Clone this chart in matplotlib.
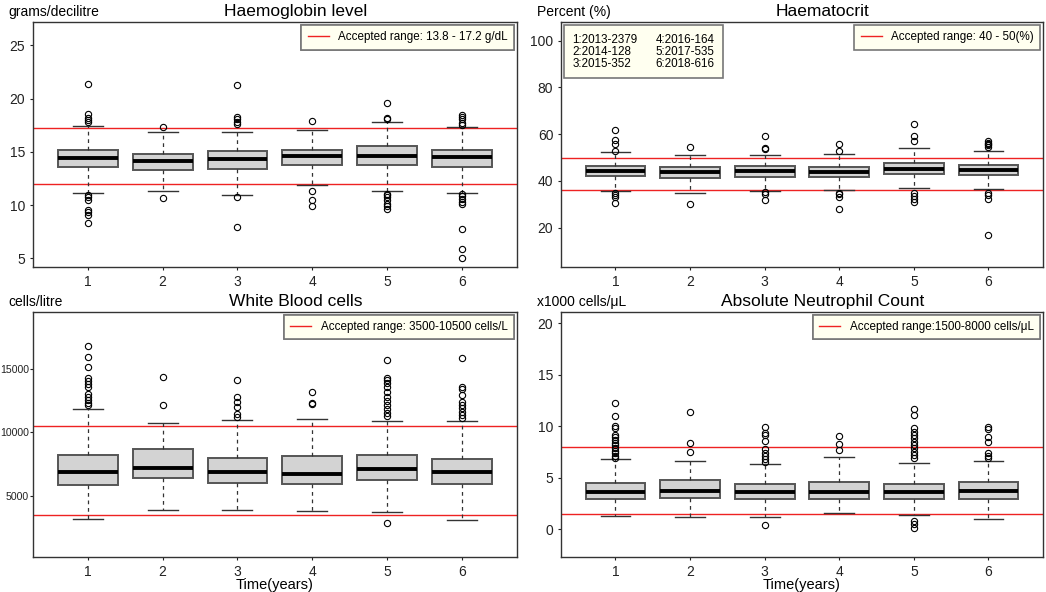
import matplotlib
matplotlib.use("Agg")
import matplotlib.pyplot as plt
from matplotlib.lines import Line2D
from matplotlib.patches import Patch

plt.rcParams['font.family'] = ['Liberation Sans', 'DejaVu Sans']

years = [1, 2, 3, 4, 5, 6]
cohort_labels = ["1:2013-2379", "2:2014-128", "3:2015-352",
                 "4:2016-164", "5:2017-535", "6:2018-616"]

# Haemoglobin (g/dL): q1, median, q3, whisker low, whisker high, outliers
hb_q1 = [13.61, 13.29, 13.36, 13.8, 13.8, 13.61]
hb_med = [14.39, 14.11, 14.3, 14.64, 14.64, 14.55]
hb_q3 = [15.17, 14.8, 15.11, 15.17, 15.52, 15.17]
hb_lo = [11.17, 11.32, 10.92, 11.92, 11.32, 11.17]
hb_hi = [17.39, 16.89, 16.89, 17.08, 17.8, 17.3]
hb_out = [
    [21.37, 18.52, 18.2, 18.0, 17.8, 11.0, 10.76, 10.5, 9.57, 9.32, 9.04, 8.32],
    [17.3, 10.7],
    [21.3, 18.27, 18.05, 17.77, 17.58, 10.73, 8.0],
    [17.9, 11.3, 10.45, 9.91],
    [19.55, 18.2, 18.1, 11.07, 10.92, 10.76, 10.45, 10.13, 9.91, 9.66],
    [18.43, 18.27, 18.08, 17.7, 17.52, 11.07, 10.82, 10.54, 10.26, 10.07,
     7.79, 5.88, 5.03],
]

# Haematocrit (%)
hct_q1 = [42.1, 41.4, 41.8, 41.8, 42.8, 42.5]
hct_med = [44.4, 44.0, 44.1, 44.0, 45.2, 44.5]
hct_q3 = [46.4, 46.0, 46.4, 46.0, 47.8, 47.0]
hct_lo = [35.7, 34.7, 35.7, 36.2, 37.1, 36.5]
hct_hi = [52.2, 50.9, 50.9, 51.5, 54.2, 52.7]
hct_out = [
    [61.8, 57.6, 55.6, 52.9, 35.0, 34.1, 33.3, 30.4],
    [54.5, 30.0],
    [59.4, 54.2, 53.8, 35.3, 34.4, 31.8],
    [55.6, 52.8, 35.0, 34.3, 33.3, 28.0],
    [64.4, 59.1, 56.9, 34.7, 33.5, 32.3, 31.1],
    [56.9, 56.4, 55.8, 55.2, 54.7, 35.0, 34.0, 32.4, 17.0],
]

# White blood cells (cells/L)
wbc_q1 = [5818, 6425, 6029, 5950, 6214, 5950]
wbc_med = [6847, 7216, 6900, 6715, 7111, 6900]
wbc_q3 = [8219, 8694, 8008, 8166, 8219, 7929]
wbc_lo = [3127, 3866, 3866, 3760, 3681, 3074]
wbc_hi = [11834, 10726, 10990, 11069, 10910, 10910]
wbc_out = [
    [16873, 15976, 15158, 14340, 14103, 13813, 13602, 13021, 12784, 12573,
     12362, 12150],
    [14393, 12203],
    [14182, 12810, 12441, 12045, 11464, 11253],
    [13206, 12362, 12256],
    [15765, 14340, 14156, 13892, 13575, 13179, 12836, 12493, 12177, 11860,
     11570, 11306, 2836],
    [15871, 13628, 13417, 12968, 12441, 12177, 11913, 11649, 11385, 11121],
]

# Absolute neutrophil count (x1000 cells/uL)
anc_q1 = [2.88, 3.01, 2.88, 2.88, 2.95, 2.95]
anc_med = [3.6, 3.66, 3.57, 3.6, 3.57, 3.7]
anc_q3 = [4.47, 4.73, 4.41, 4.57, 4.41, 4.57]
anc_lo = [1.23, 1.17, 1.17, 1.52, 1.33, 1.0]
anc_hi = [6.77, 6.61, 6.29, 6.97, 6.45, 6.61]
anc_out = [
    [12.29, 11.02, 9.98, 9.85, 9.14, 8.91, 8.65, 8.4, 8.14, 7.88, 7.62, 7.36,
     7.1, 6.9],
    [11.41, 8.33, 7.52],
    [9.89, 9.37, 9.11, 8.56, 7.75, 7.42, 7.1, 6.81, 6.52, 0.36],
    [9.04, 8.23, 7.65],
    [11.64, 11.05, 9.79, 9.47, 9.14, 8.82, 8.49, 8.17, 7.84, 7.52, 7.2, 6.87,
     0.75, 0.49, 0.13],
    [9.95, 9.69, 8.91, 8.49, 7.36, 7.13, 6.94],
]


def make_stats(q1, med, q3, lo, hi, out):
    stats = []
    for i in range(len(q1)):
        stats.append(dict(q1=q1[i], med=med[i], q3=q3[i], whislo=lo[i],
                          whishi=hi[i], fliers=out[i], label=str(years[i])))
    return stats


panels = [
    dict(title="Haemoglobin level", unit="grams/decilitre",
         stats=make_stats(hb_q1, hb_med, hb_q3, hb_lo, hb_hi, hb_out),
         lines=[17.2, 12.0], ylim=(4.2, 27.2), yticks=[5, 10, 15, 20, 25],
         legend="Accepted range: 13.8 - 17.2 g/dL",
         rect=[0.0315, 0.549, 0.4627, 0.4139]),
    dict(title="Haematocrit", unit="Percent (%)",
         stats=make_stats(hct_q1, hct_med, hct_q3, hct_lo, hct_hi, hct_out),
         lines=[50, 36], ylim=(3.2, 108), yticks=[20, 40, 60, 80, 100],
         legend="Accepted range: 40 - 50(%)",
         rect=[0.5363, 0.549, 0.4608, 0.4139]),
    dict(title="White Blood cells", unit="cells/litre",
         stats=make_stats(wbc_q1, wbc_med, wbc_q3, wbc_lo, wbc_hi, wbc_out),
         lines=[10500, 3500], ylim=(120, 19560), yticks=[5000, 10000, 15000],
         legend="Accepted range: 3500-10500 cells/L",
         rect=[0.0315, 0.0586, 0.4627, 0.4149]),
    dict(title="Absolute Neutrophil Count", unit="x1000 cells/\u03bcL",
         stats=make_stats(anc_q1, anc_med, anc_q3, anc_lo, anc_hi, anc_out),
         lines=[8.0, 1.5], ylim=(-2.75, 21.13), yticks=[0, 5, 10, 15, 20],
         legend="Accepted range:1500-8000 cells/\u03bcL",
         rect=[0.5363, 0.0586, 0.4608, 0.4149]),
]

fig = plt.figure(figsize=(10.46, 5.92), dpi=100)

for k, p in enumerate(panels):
    ax = fig.add_axes(p["rect"])
    ax.bxp(p["stats"], positions=years, widths=0.8, capwidths=0.4,
           patch_artist=True,
           boxprops=dict(facecolor="#d3d3d3", edgecolor="#555555", linewidth=1.4),
           medianprops=dict(color="black", linewidth=2.8),
           whiskerprops=dict(color="#333333", linestyle=(0, (3, 3)), linewidth=0.9),
           capprops=dict(color="#333333", linewidth=1.0),
           flierprops=dict(marker="o", markersize=4.5, markerfacecolor="none",
                           markeredgecolor="black", markeredgewidth=0.8))
    for v in p["lines"]:
        ax.axhline(v, color="#ee2222", linewidth=1.0, zorder=1)

    ax.set_xlim(0.27, 6.73)
    ax.set_ylim(*p["ylim"])
    ax.set_yticks(p["yticks"])
    ax.set_xticks(years)
    ax.set_xticklabels([str(y) for y in years])
    ax.tick_params(direction="out", length=2.5, width=0.8, labelsize=10,
                   colors="#222222", pad=3)
    if k == 2:
        # five-digit labels have little room left of the axes
        ax.tick_params(axis="y", labelsize=7.6, length=2, pad=0.8)
    for s in ax.spines.values():
        s.set_color("#333333")
        s.set_linewidth(1.0)

    ax.set_title(p["title"], fontsize=12.5, x=0.543, pad=4)
    ax.text(-0.05, 1.012, p["unit"], transform=ax.transAxes, ha="left",
            va="bottom", fontsize=10)

    handle = Line2D([], [], color="#ee2222", linewidth=1.0)
    leg = ax.legend([handle], [p["legend"]], loc="upper right", fontsize=8.4,
                    fancybox=False, framealpha=1, borderaxespad=0.25,
                    handlelength=1.8, borderpad=0.55)
    leg.get_frame().set_facecolor("#fffff0")
    leg.get_frame().set_edgecolor("#777777")
    leg.get_frame().set_linewidth(1.2)
    ax.add_artist(leg)

    if k == 1:
        blanks = [Patch(visible=False) for _ in cohort_labels]
        leg2 = ax.legend(blanks, cohort_labels, loc="upper left", ncol=2,
                         fontsize=8.4, fancybox=False, framealpha=1,
                         handlelength=0, handletextpad=0, columnspacing=1.5,
                         labelspacing=0.0, borderaxespad=0.25, borderpad=0.75)
        leg2.get_frame().set_facecolor("#fffff0")
        leg2.get_frame().set_edgecolor("#777777")
        leg2.get_frame().set_linewidth(1.2)

    if k >= 2:
        ax.set_xlabel("Time(years)", fontsize=10.5, labelpad=-1)

fig.savefig("out.png", dpi=100)
